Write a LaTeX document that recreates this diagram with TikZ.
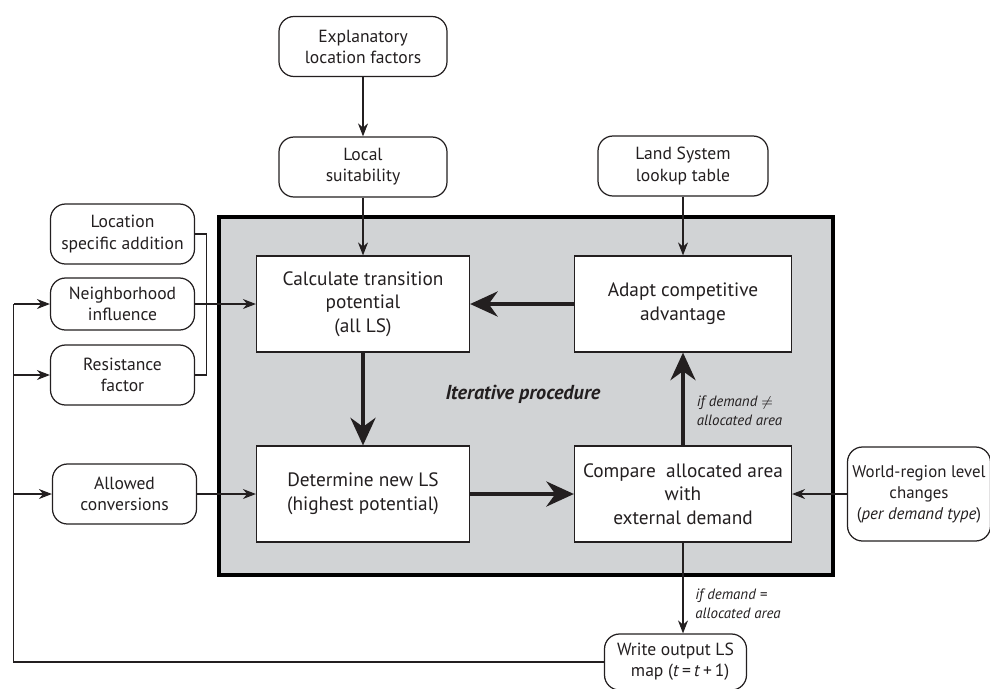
\documentclass[tikz,border=0pt]{standalone}
\usepackage{fontspec}
\setmainfont{PT Sans}
\usepackage{tikz}
\usetikzlibrary{shapes, arrows.meta, calc, positioning, backgrounds}

\definecolor{boxgray}{RGB}{209,211,213}
\definecolor{ink}{RGB}{35,31,32}

\begin{document}
\begin{tikzpicture}[auto, node distance=1.5cm, >={Stealth[length=0.26cm, width=0.2cm]}, font=\fontsize{10}{12}\selectfont, color=ink]

    % Define styles
    \tikzstyle{inputbox} = [rectangle, rounded corners=0.3cm, minimum width=3.36cm, minimum height=1.2cm, align=center, draw=ink, line width=0.7pt, fill=white, inner sep=1pt]
    \tikzstyle{sidebox} = [inputbox, minimum width=2.88cm]
    \tikzstyle{process} = [rectangle, minimum width=4.26cm, minimum height=1.92cm, align=center, draw=ink, line width=0.7pt, fill=white, font=\fontsize{11}{13.5}\selectfont]
    \tikzstyle{line} = [line width=0.6pt]
    \tikzstyle{arr} = [line, ->]
    \tikzstyle{bigarrow} = [line width=2.3pt, -{Stealth[length=0.55cm, width=0.5cm]}]
    \tikzstyle{cond} = [font=\fontsize{8.5}{11}\selectfont\itshape, align=left, inner sep=1pt]

    \useasboundingbox (0,0) rectangle (19.8,-13.76);

    % Nodes
    \node (expl) [inputbox] at (7.26,-0.93) {Explanatory\\location factors};
    \node (local) [inputbox, below of=expl, node distance=2.41cm] {Local\\suitability};
    \node (calc) [process, below of=local, node distance=2.74cm] {Calculate transition\\potential\\(all LS)};
    \node (determine) [process, below of=calc, node distance=3.8cm] {Determine new LS\\(highest potential)};
    \node (adapt) [process, right of=calc, node distance=6.4cm, minimum width=4.34cm] {Adapt competitive\\advantage};
    \node (compare) [process, right of=determine, node distance=6.4cm, minimum width=4.34cm] {Compare\ \ allocated area\\with\\external demand};
    \node (lookup) [inputbox, above of=adapt, node distance=2.76cm, minimum width=3.4cm] {Land System\\lookup table};
    \node (neigh) [sidebox, left of=calc, node distance=4.81cm, minimum height=1.04cm] {Neighborhood\\influence};
    \node (loc) [sidebox, above of=neigh, node distance=1.4cm] {Location\\specific addition};
    \node (resist) [sidebox, below of=neigh, node distance=1.42cm] {Resistance\\factor};
    \node (allowed) [sidebox, left of=determine, node distance=4.77cm] {Allowed\\conversions};
    \node (world) [inputbox, right of=compare, node distance=4.72cm, minimum width=2.86cm, minimum height=1.88cm, inner sep=0.5pt, font=\fontsize{9.6}{12}\selectfont] {World-region level\\changes\\(\textit{per demand type})};
    \node (write) [inputbox, below of=compare, node distance=3.36cm, xshift=-0.15cm, minimum width=2.84cm, minimum height=1.12cm] {Write output LS\\\ \ map (\textit{t}\,=\,\textit{t}\,+\,1)};
    \node (iter) at ($(calc)!0.5!(compare)$) [yshift=0.1cm, font=\fontsize{11.5}{14}\selectfont\bfseries\itshape] {Iterative procedure};

    % Iterative procedure frame
    \begin{scope}[on background layer]
        \draw [line width=2.2pt, fill=boxgray] ($(calc.north west)+(-0.74,0.76)$) rectangle ($(compare.south east)+(0.82,-0.64)$);
    \end{scope}

    % Arrows
    \draw [arr] (expl) -- (local);
    \draw [arr] (local) -- (calc);
    \draw [arr] (lookup) -- (adapt);
    \draw [line] (loc.east) -- ++(0.22,0) |- (resist.east);
    \draw [arr] (neigh) -- (calc);
    \draw [arr] (allowed) -- (determine);
    \draw [bigarrow] (calc) -- (determine);
    \draw [bigarrow] (determine) -- (compare);
    \draw [bigarrow] (compare) -- node[cond, pos=0.37, anchor=west, xshift=0.2cm] {if demand $\neq$\\allocated area} (adapt);
    \draw [bigarrow] (adapt) -- (calc);
    \draw [arr] (world) -- (compare);
    \draw [arr] (compare.south) -- node[cond, pos=0.67, anchor=west, xshift=0.2cm] {if demand =\\allocated area} (compare.south |- write.north);

    % Feedback loop
    \coordinate (loopL) at ($(neigh.west)+(-0.72,0)$);
    \draw [line] (write.west) -| (loopL);
    \draw [arr] (loopL) -- (neigh.west);
    \draw [arr] (loopL |- resist.west) -- (resist.west);
    \draw [arr] (loopL |- allowed.west) -- (allowed.west);

\end{tikzpicture}
\end{document}
